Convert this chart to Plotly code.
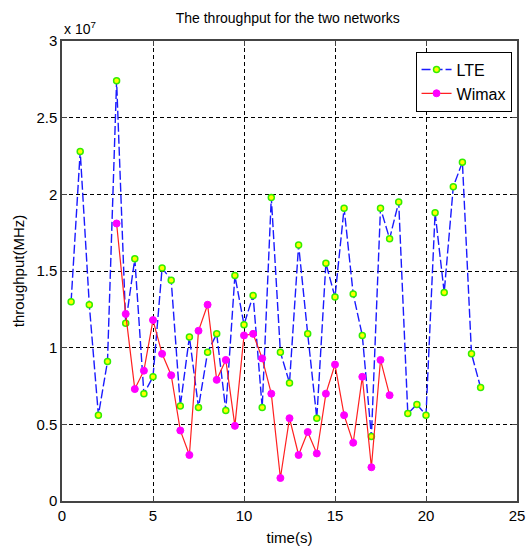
import plotly.graph_objects as go

# time (s)
lte_time = [0.5, 1.0, 1.5, 2.0, 2.5, 3.0, 3.5, 4.0, 4.5, 5.0, 5.5, 6.0, 6.5, 7.0, 7.5, 8.0,
            8.5, 9.0, 9.5, 10.0, 10.5, 11.0, 11.5, 12.0, 12.5, 13.0, 13.5, 14.0, 14.5, 15.0,
            15.5, 16.0, 16.5, 17.0, 17.5, 18.0, 18.5, 19.0, 19.5, 20.0, 20.5, 21.0, 21.5,
            22.0, 22.5, 23.0]
# throughput in units of 1e7
lte_values = [1.30, 2.28, 1.28, 0.56, 0.91, 2.74, 1.16, 1.58, 0.70, 0.81, 1.52, 1.44, 0.62,
              1.07, 0.61, 0.97, 1.09, 0.59, 1.47, 1.15, 1.34, 0.61, 1.98, 0.97, 0.77, 1.67,
              1.09, 0.54, 1.55, 1.33, 1.91, 1.35, 1.08, 0.42, 1.91, 1.71, 1.95, 0.57, 0.63,
              0.56, 1.88, 1.36, 2.05, 2.21, 0.96, 0.74]

wimax_time = [3.0, 3.5, 4.0, 4.5, 5.0, 5.5, 6.0, 6.5, 7.0, 7.5, 8.0, 8.5, 9.0, 9.5, 10.0,
              10.5, 11.0, 11.5, 12.0, 12.5, 13.0, 13.5, 14.0, 14.5, 15.0, 15.5, 16.0, 16.5,
              17.0, 17.5, 18.0]
wimax_values = [1.81, 1.22, 0.73, 0.85, 1.18, 0.96, 0.82, 0.46, 0.30, 1.11, 1.28, 0.79, 0.92,
                0.49, 1.08, 1.09, 0.93, 0.70, 0.15, 0.54, 0.30, 0.45, 0.31, 0.70, 0.89, 0.56,
                0.38, 0.81, 0.22, 0.92, 0.69]

x_ticks = [0, 5, 10, 15, 20, 25]
y_ticks = [0, 0.5, 1, 1.5, 2, 2.5, 3]

FONT = "Liberation Sans Narrow, Arial Narrow, Liberation Sans, Arial, sans-serif"

fig = go.Figure()
fig.add_trace(go.Scatter(
    x=lte_time, y=lte_values, mode="lines+markers", name="LTE",
    line=dict(color="#1a1aff", width=1.4, dash="9px,3px"),
    marker=dict(symbol="circle", size=6, color="#ffff00",
                line=dict(color="#33ee00", width=1.5)),
))
fig.add_trace(go.Scatter(
    x=wimax_time, y=wimax_values, mode="lines+markers", name="Wimax",
    line=dict(color="#ff2020", width=1.2),
    marker=dict(symbol="circle", size=7, color="#ff00ff",
                line=dict(color="#ff00ff", width=1)),
))

axis_common = dict(
    showgrid=True, gridcolor="black", gridwidth=1, griddash="4px,3px",
    showline=True, linecolor="#444444", linewidth=1.5, mirror="ticks",
    ticks="inside", ticklen=5, tickcolor="#444444", automargin=False,
    zeroline=False, tickfont=dict(family=FONT, size=15, color="black"),
)

fig.update_layout(
    width=528, height=551,
    margin=dict(l=62, r=11, t=41, b=50),
    paper_bgcolor="white", plot_bgcolor="white",
    font=dict(family=FONT, color="black"),
    title=dict(text="The throughput for the two networks", x=0.545, xanchor="center",
               y=0.968, yanchor="middle", font=dict(family=FONT, size=14, color="black")),
    xaxis=dict(range=[0, 25], tickvals=x_ticks, **axis_common,
               title=dict(text="time(s)", font=dict(family=FONT, size=15), standoff=10)),
    yaxis=dict(range=[0, 3], tickvals=y_ticks, **axis_common,
               title=dict(text="throughput(MHz)", font=dict(family=FONT, size=15), standoff=8)),
    legend=dict(x=0.988, y=0.977, xanchor="right", yanchor="top",
                bgcolor="white", bordercolor="black", borderwidth=1,
                font=dict(family=FONT, size=16, color="black"),
                tracegroupgap=2),
    showlegend=True,
)

fig.add_annotation(text="x 10<sup>7</sup>", xref="paper", yref="paper",
                   x=0.0, y=1.0, xanchor="left", yanchor="bottom", yshift=2,
                   showarrow=False, font=dict(family=FONT, size=14, color="black"))

fig.write_html("out.html")
